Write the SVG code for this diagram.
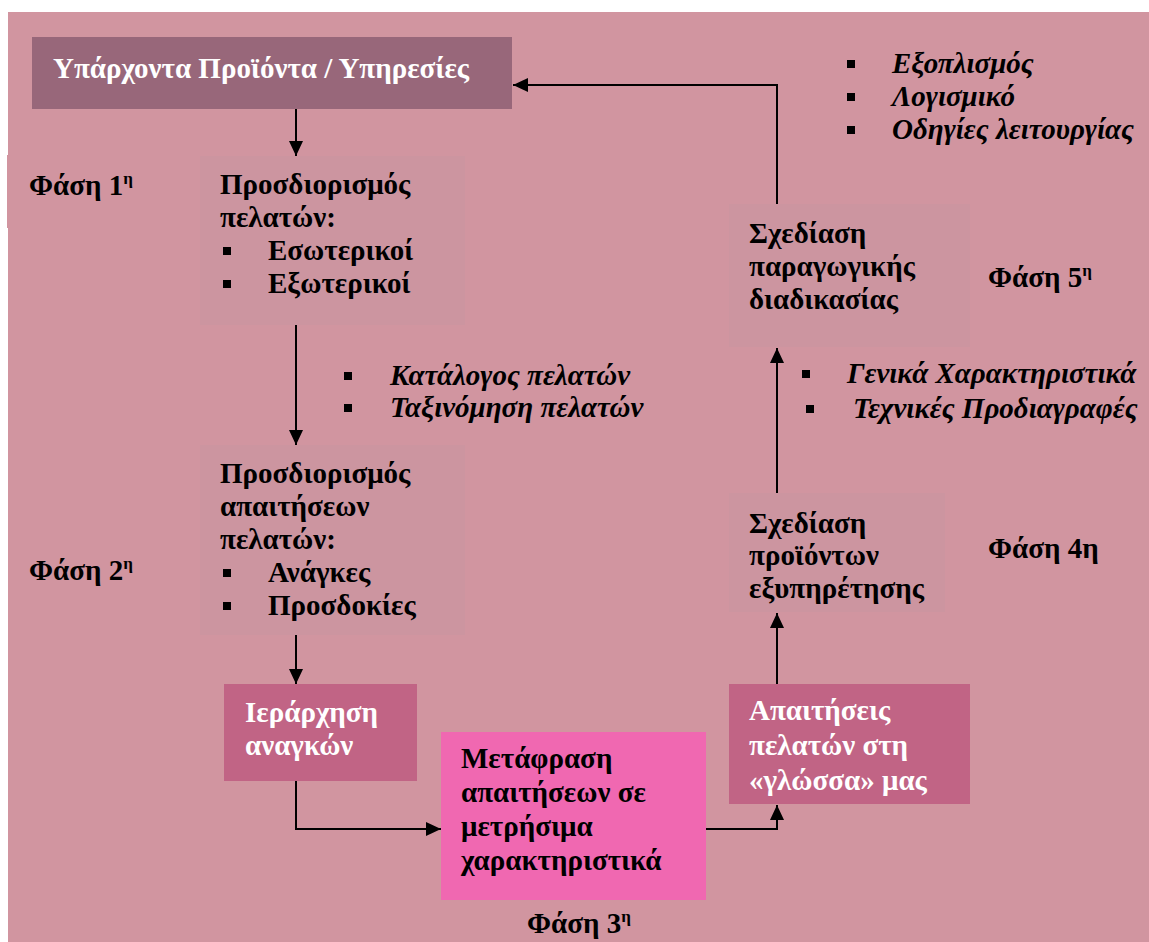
<svg xmlns="http://www.w3.org/2000/svg" width="1149" height="942" viewBox="0 0 1149 942">
  <defs>
    <marker id="arrow" markerUnits="userSpaceOnUse" markerWidth="16" markerHeight="14" refX="15" refY="7" orient="auto">
      <path d="M0,0 L15,7 L0,14 z" fill="#000"/>
    </marker>
  </defs>
  <style>
    text { font-family: "Liberation Serif", "Times New Roman", serif; font-size: 29px; font-weight: bold; fill: #000; }
    .w { fill: #fff; }
    .it { font-style: italic; }
    .sup { font-size: 17px; }
    .bg { fill: #D195A0; }
    .phase { fill: #CC95A0; }
    .dark { fill: #98677A; }
    .mid { fill: #C16485; }
    .hot { fill: #F068B1; }
    .bul { fill: #000; }
    .conn { fill: none; stroke: #000; stroke-width: 2; marker-end: url(#arrow); }
  </style>

  <!-- page background -->
  <rect x="0" y="0" width="1149" height="942" fill="#fff"/>
  <rect class="bg" x="8" y="12" width="1141" height="930"/>
  <rect class="bg" x="7" y="155" width="193" height="73"/>

  <!-- existing products / services -->
  <g id="existing">
    <rect class="dark" x="32" y="37" width="480" height="72"/>
    <text class="w" x="53" y="78">Υπάρχοντα Προϊόντα / Υπηρεσίες</text>
  </g>

  <!-- phase 1 -->
  <g id="phase1-label">
    <text x="29" y="195">Φάση 1<tspan class="sup" dy="-11">η</tspan></text>
  </g>
  <g id="customers">
    <rect class="phase" x="200" y="156" width="265" height="169"/>
    <text x="220" y="194">Προσδιορισμός</text>
    <text x="220" y="227">πελατών:</text>
    <rect class="bul" x="223" y="247" width="8" height="8"/>
    <text x="268" y="260">Εσωτερικοί</text>
    <rect class="bul" x="223" y="280" width="8" height="8"/>
    <text x="268" y="293">Εξωτερικοί</text>
  </g>

  <g id="customer-outputs">
    <rect class="bul" x="344" y="372" width="8" height="8"/>
    <text class="it" x="390" y="385">Κατάλογος πελατών</text>
    <rect class="bul" x="344" y="404" width="8" height="8"/>
    <text class="it" x="390" y="417">Ταξινόμηση πελατών</text>
  </g>

  <!-- phase 2 -->
  <g id="phase2-label">
    <text x="29" y="580">Φάση 2<tspan class="sup" dy="-11">η</tspan></text>
  </g>
  <g id="requirements">
    <rect class="phase" x="200" y="445" width="265" height="190"/>
    <text x="220" y="483">Προσδιορισμός</text>
    <text x="220" y="516">απαιτήσεων</text>
    <text x="220" y="549">πελατών:</text>
    <rect class="bul" x="223" y="569" width="8" height="8"/>
    <text x="268" y="582">Ανάγκες</text>
    <rect class="bul" x="223" y="602" width="8" height="8"/>
    <text x="268" y="615">Προσδοκίες</text>
  </g>

  <g id="ranking">
    <rect class="mid" x="224" y="684" width="193" height="97"/>
    <text class="w" x="245" y="722">Ιεράρχηση</text>
    <text class="w" x="245" y="755">αναγκών</text>
  </g>

  <!-- phase 3 -->
  <g id="translation">
    <rect class="hot" x="441" y="732" width="265" height="168"/>
    <text x="461" y="768">Μετάφραση</text>
    <text x="461" y="802">απαιτήσεων σε</text>
    <text x="461" y="836">μετρήσιμα</text>
    <text x="461" y="870">χαρακτηριστικά</text>
  </g>
  <g id="phase3-label">
    <text x="527" y="933">Φάση 3<tspan class="sup" dy="-11">η</tspan></text>
  </g>

  <g id="our-language">
    <rect class="mid" x="729" y="684" width="241" height="120"/>
    <text class="w" x="749" y="720">Απαιτήσεις</text>
    <text class="w" x="749" y="755">πελατών στη</text>
    <text class="w" x="749" y="790">«γλώσσα» μας</text>
  </g>

  <!-- phase 4 -->
  <g id="service-design">
    <rect class="phase" x="729" y="493" width="216" height="119"/>
    <text x="749" y="533">Σχεδίαση</text>
    <text x="749" y="565">προϊόντων</text>
    <text x="749" y="598">εξυπηρέτησης</text>
  </g>
  <g id="phase4-label">
    <text x="988" y="558">Φάση 4η</text>
  </g>

  <g id="design-outputs">
    <rect class="bul" x="802" y="370" width="8" height="8"/>
    <text class="it" x="847" y="383">Γενικά Χαρακτηριστικά</text>
    <rect class="bul" x="806" y="405" width="8" height="8"/>
    <text class="it" x="853" y="418">Τεχνικές Προδιαγραφές</text>
  </g>

  <!-- phase 5 -->
  <g id="process-design">
    <rect class="phase" x="729" y="204" width="241" height="143"/>
    <text x="749" y="243">Σχεδίαση</text>
    <text x="749" y="276">παραγωγικής</text>
    <text x="749" y="309">διαδικασίας</text>
  </g>
  <g id="phase5-label">
    <text x="988" y="287">Φάση 5<tspan class="sup" dy="-11">η</tspan></text>
  </g>

  <g id="process-outputs">
    <rect class="bul" x="847" y="60" width="8" height="8"/>
    <text class="it" x="892" y="73">Εξοπλισμός</text>
    <rect class="bul" x="847" y="93" width="8" height="8"/>
    <text class="it" x="892" y="106">Λογισμικό</text>
    <rect class="bul" x="847" y="126" width="8" height="8"/>
    <text class="it" x="892" y="139">Οδηγίες λειτουργίας</text>
  </g>

  <!-- flow arrows -->
  <g id="connectors">
    <path class="conn" d="M296,109 V156"/>
    <path class="conn" d="M296,325 V445"/>
    <path class="conn" d="M296,635 V684"/>
    <path class="conn" d="M296,781 V829 H441"/>
    <path class="conn" d="M706,829 H777 V805"/>
    <path class="conn" d="M777,684 V613"/>
    <path class="conn" d="M777,493 V348"/>
    <path class="conn" d="M777,204 V85 H513"/>
  </g>
</svg>
